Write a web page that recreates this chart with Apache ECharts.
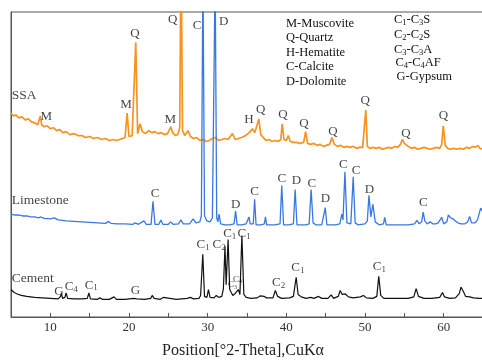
<!DOCTYPE html>
<html>
<head>
<meta charset="utf-8">
<script src="https://cdn.jsdelivr.net/npm/echarts@6/dist/echarts.min.js"></script>
<style>
  html, body { margin: 0; padding: 0; background: #fff; overflow: hidden; }
  /* the plot frame runs a few pixels past the right edge of the page */
  #chart { width: 486px; height: 364px; }
</style>
</head>
<body>
<div id="chart"></div>
<script>
// XRD patterns: [2θ (deg), intensity (a.u., relative to each trace's own zero)]
const ssaPattern = [
  [5.0,40],[5.3,37],[5.6,38],[6.0,35],[6.4,36],[6.8,33],[7.2,34],[7.6,31],[8.0,30],[8.4,28],[8.6,30],
  [8.73,37],[8.9,28],[9.2,26],[9.6,27],[10.0,24],[10.4,25],[10.8,22],[11.2,23],[11.6,20],[12.0,21],
  [12.5,18],[13.0,19],[13.5,17],[14.0,17],[14.5,15],[15.0,16],[15.5,14],[16.0,15],[16.5,13],[17.0,14],
  [17.5,12],[18.0,13],[18.4,12],[18.8,13],[19.2,14],[19.5,15],[19.76,40],[20.0,16],[20.4,17],[20.6,18],
  [20.86,112],[21.1,19],[21.4,29],[21.7,21],[22.1,19],[22.5,22],[22.9,20],[23.3,21],[23.7,19],[24.1,20],
  [24.5,18],[24.9,19],[25.1,21],[25.3,26],[25.55,20],[25.9,17],[26.2,18],[26.45,25],[26.62,215],[26.8,22],
  [27.1,17],[27.5,22],[27.8,16],[28.2,14],[28.6,15],[29.0,12],[29.4,13],[29.8,11],[30.2,12],[30.6,14],
  [31.0,15],[31.4,12],[31.8,13],[32.2,14],[32.6,13],[33.15,19],[33.5,13],[33.9,14],[34.3,15],[34.6,16],
  [35.0,18],[35.4,21],[35.7,24],[36.0,20],[36.25,19],[36.5,34],[36.75,18],[37.0,16],[37.4,12],[37.8,13],
  [38.2,11],[38.6,12],[39.0,11],[39.3,13],[39.47,29],[39.7,13],[40.0,12],[40.25,17],[40.5,11],[40.9,10],
  [41.3,10],[41.7,9],[42.2,10],[42.45,21],[42.7,9],[43.1,8],[43.5,9],[43.9,7],[44.3,8],[44.7,6],[45.1,7],
  [45.5,8],[45.8,15],[46.1,8],[46.5,6],[46.9,7],[47.3,5],[47.7,6],[48.1,5],[48.5,6],[48.9,4],[49.3,5],
  [49.7,5],[49.9,7],[50.1,43],[50.3,6],[50.6,4],[51.0,5],[51.4,4],[51.8,5],[52.2,3],[52.6,4],[53.0,5],
  [53.4,4],[53.8,6],[54.2,5],[54.5,8],[54.75,13],[55.0,9],[55.25,11],[55.5,6],[55.9,4],[56.3,5],[56.7,3],
  [57.1,4],[57.5,5],[57.9,4],[58.3,3],[58.7,4],[59.1,5],[59.5,4],[59.75,8],[59.95,27],[60.2,7],[60.5,4],
  [60.9,3],[61.3,4],[61.7,3],[62.1,4],[62.5,3],[62.9,5],[63.3,4],[63.7,6],[64.0,5],[64.35,7],[64.6,4],[65.0,3]
];

const limestonePattern = [
  [5.0,13],[5.5,12],[6.0,12],[6.2,14],[6.5,11],[7.0,11],[7.5,10],[8.0,10],[8.5,9],[8.8,10],[9.2,8.5],
  [10.0,8],[10.5,9],[11.0,7],[12.0,6],[13.0,5.5],[14.0,5],[15.0,4.5],[16.0,4],[17.0,3.5],[17.4,5.5],
  [17.7,3.5],[18.5,3],[19.5,3],[20.5,2.5],[20.8,4],[21.2,2.5],[21.9,6],[22.2,2.5],[22.8,2.5],[23.05,26],
  [23.3,2.5],[23.8,2.5],[24.05,7],[24.3,2.5],[25.0,2.5],[25.3,5],[25.6,2.5],[26.3,3],[26.6,7],[26.9,3],
  [27.7,3],[28.15,8],[28.5,4],[29.0,5],[29.2,11],[29.4,260],[29.6,11],[29.9,6],[30.3,5],[30.6,9],
  [30.95,260],[31.15,9],[31.3,5],[31.45,13],[31.65,3],[32.2,2],[32.8,2],[33.35,3],[33.55,16],[33.75,2],
  [34.3,2],[34.9,3],[35.1,5],[35.25,10],[35.4,3],[35.8,3],[35.97,28],[36.15,2],[36.8,2],[37.2,3],
  [37.35,10],[37.5,2],[38.5,2],[39.2,3],[39.42,42],[39.65,2],[40.3,2],[40.9,3],[41.12,38],[41.35,2],
  [42.5,2],[42.9,3],[43.15,38],[43.4,4],[43.55,6],[43.75,2],[44.5,2],[44.75,3],[44.95,19.5],[45.15,2],
  [46.2,2],[46.8,3],[47.05,13],[47.2,7],[47.45,56],[47.7,4],[48.2,3],[48.5,51],[48.75,4],[49.1,2],
  [50.0,3],[50.3,6],[50.5,32],[50.75,10],[51.0,23],[51.3,5],[51.8,2],[52.35,3],[52.5,9.5],[52.7,2],
  [54.0,2],[55.5,2],[56.3,3],[56.6,6.5],[56.9,3],[57.2,5],[57.4,15],[57.6,6],[57.9,3],[58.3,5],[58.6,3],
  [59.0,3],[59.3,4],[59.75,9.5],[60.0,3],[60.4,5],[60.6,12],[60.9,9],[61.2,8],[61.5,6],[61.8,4],[62.2,3],
  [62.7,3],[63.05,5],[63.3,10.5],[63.55,4],[64.0,4],[64.3,7],[64.7,19],[65.0,15]
];

const cementPattern = [
  [5.0,11],[5.4,8],[5.8,6.5],[6.3,5],[7.0,4],[8.0,3],[9.0,2.5],[10.0,2],[11.0,1.5],[11.3,4],[11.4,7],
  [11.55,2],[11.85,3],[12.0,7.5],[12.2,2],[13.0,1.5],[14.0,1.5],[14.7,2],[14.9,7.5],[15.1,1.5],[16.0,1],
  [16.3,2.5],[16.6,1],[17.5,1],[18.1,3.5],[18.4,1],[19.5,1],[20.6,2],[20.8,3.5],[21.0,1.5],[22.0,1],
  [22.75,2],[22.95,5],[23.2,2],[24.0,1],[24.35,3],[24.6,1],[25.2,2],[26.0,1],[27.4,2],[27.8,3],[28.2,1.5],
  [28.9,2],[29.1,5],[29.38,47],[29.6,4],[29.9,3],[30.1,11],[30.3,3],[30.8,2.5],[31.1,5],[31.4,3],[31.8,4],
  [32.0,12],[32.2,55],[32.35,16],[32.6,62],[32.8,11],[33.0,9],[33.2,5],[33.5,7],[33.75,9],[33.9,11],
  [34.1,6],[34.35,66],[34.6,6],[34.9,3],[35.5,2],[36.3,2.5],[36.65,4.5],[36.9,2.5],[37.2,4],[37.5,2.5],
  [38.3,2.5],[38.6,10],[38.9,4],[39.4,2],[40.4,2.5],[40.9,4],[41.25,23.5],[41.5,6],[41.9,3.5],[42.5,2],
  [43.1,3],[43.5,2],[44.1,4],[44.5,2],[45.3,2],[45.7,5.5],[46.0,2],[46.6,4],[46.85,10],[47.1,6],[47.5,6.5],
  [47.9,3.5],[48.5,2.5],[49.4,3.5],[49.8,5],[50.2,2.5],[51.0,2],[51.5,4],[51.75,24.5],[52.0,5],[52.4,2],
  [53.5,2],[54.5,2],[55.5,2],[56.2,3.5],[56.5,12],[56.8,4],[57.5,2],[58.5,2],[59.5,3],[59.85,8],[60.1,3.5],
  [60.8,2],[61.5,2.5],[62.0,7],[62.2,13.5],[62.5,9],[62.8,4],[63.3,3.5],[63.5,4.5],[63.8,2.5],[64.5,2],[65.0,2]
];

// Phase labels: [text, 2θ, intensity] in each trace's own units
const ssaMarks = [
  ['M',9.49,36],['M',19.63,47.7],['Q',20.77,120.7],['M',25.25,33.3],['Q',25.55,134.3],['H',35.26,33.3],
  ['Q',36.74,43.3],['Q',39.57,37.7],['Q',42.23,29],['Q',45.91,20.7],['Q',50.01,51.7],['Q',55.21,18.3],['Q',59.97,37.3]
];
const limestoneMarks = [
  ['C',28.67,205],['D',32.05,208.7],['C',23.31,33.7],['D',33.57,21.7],['C',35.98,35.3],['C',39.44,48.7],
  ['D',41.27,47],['C',43.24,43.7],['D',44.98,28.3],['C',47.26,62.7],['C',48.87,57],['D',50.56,37.7],['C',57.40,23.7]
];
const cementMarks = [
  ['G',11.10,8.3],['C4',12.66,13.3],['C1',15.20,15],['G',20.81,9.3],['C1',29.43,56],['C2',31.46,56.7],
  ['C1',32.81,67.7],['C1',34.63,67.7],['C2',39.02,17.7],['C1',41.47,33.3],['C1',51.83,34.3]
];
const cementMinorMarks = [['C3',33.15,15.3],['C4',33.79,21]];

// Trace names: [text, 2θ, intensity]
const traceNames = {
  ssa: ['SSA', 5.1, 58],
  limestone: ['Limestone', 5.1, 27],
  cement: ['Cement', 5.1, 22.7]
};

const legendLeft = ['M-Muscovite','Q-Quartz','H-Hematite','C-Calcite','D-Dolomite'];
const legendRight = ['C1-C3S','C2-C2S','C3-C3A','C4-C4AF','G-Gypsum'];

// vertical stacking of the three patterns
const traceOffset = { ssa: 168, limestone: 92, cement: 17 };

const SERIF = '"Liberation Serif","Times New Roman",serif';
const COLORS = { ssa: '#f7931e', limestone: '#3a78e0', cement: '#111111' };

// turn digits into subscript rich-text tokens
function toRich(s, m, sub) {
  return s.split(/(\d)/).filter(t => t !== '').map(t =>
    /\d/.test(t) ? '{' + sub + '|' + t + '}' : '{' + m + '|' + t + '}').join('');
}
const richLabel = {
  m: { fontFamily: SERIF, fontSize: 13, lineHeight: 14, verticalAlign: 'top', color: '#111' },
  s: { fontFamily: SERIF, fontSize: 9, lineHeight: 9, padding: [8, 0, 0, 0], verticalAlign: 'bottom', color: '#111' },
  mm: { fontFamily: SERIF, fontSize: 9, lineHeight: 10, verticalAlign: 'top', color: '#111' },
  ss: { fontFamily: SERIF, fontSize: 6, lineHeight: 6, padding: [6, 0, 0, 0], verticalAlign: 'bottom', color: '#111' }
};

function lineSeries(key, pattern, width) {
  const off = traceOffset[key];
  return {
    type: 'line', name: key, silent: true, symbol: 'none', clip: true,
    lineStyle: { color: COLORS[key], width: width },
    data: pattern.map(p => [p[0], p[1] + off])
  };
}
function labelSeries(key, marks, m, s) {
  const off = traceOffset[key];
  return {
    type: 'scatter', silent: true, symbolSize: 0, z: 5,
    itemStyle: { color: 'transparent' },
    label: {
      show: true, position: 'inside',
      formatter: p => toRich(p.name, m, s), rich: richLabel
    },
    data: marks.map(a => ({ name: a[0], value: [a[1], a[2] + off] }))
  };
}
function nameSeries(key) {
  const n = traceNames[key];
  const off = traceOffset[key];
  return {
    type: 'scatter', silent: true, symbolSize: 0, z: 5,
    itemStyle: { color: 'transparent' },
    label: { show: true, position: 'right', distance: 0, formatter: '{b}',
      fontFamily: SERIF, fontSize: 13.5, color: '#111' },
    data: [{ name: n[0], value: [n[1], n[2] + off] }]
  };
}

const legendGraphics = [];
legendLeft.forEach((t, i) => {
  legendGraphics.push({ type: 'text', x: 286, y: 23.3 + i * 14.6, silent: true,
    style: { text: t, fontFamily: SERIF, fontSize: 12.5, fill: '#111', verticalAlign: 'middle' } });
});
const rightX = [394, 394, 394, 395.5, 396.5];
const rightY = [20.5, 35, 50, 63.3, 77.7];
legendRight.forEach((t, i) => {
  legendGraphics.push({ type: 'text', x: rightX[i], y: rightY[i], silent: true,
    style: { text: toRich(t, 'm', 's'), rich: {
      m: { fontFamily: SERIF, fontSize: 12.5, lineHeight: 14, verticalAlign: 'top', fill: '#111' },
      s: { fontFamily: SERIF, fontSize: 8.5, lineHeight: 9, padding: [8, 0, 0, 0], verticalAlign: 'bottom', fill: '#111' }
    }, verticalAlign: 'middle' } });
});

const chart = echarts.init(document.getElementById('chart'), null, { renderer: 'canvas' });
chart.setOption({
  animation: false,
  backgroundColor: '#fff',
  grid: { left: 11, top: 12, right: 1.6, bottom: 41, show: true, borderColor: '#555', borderWidth: 1 },
  xAxis: {
    type: 'value', min: 5, max: 65, interval: 5,
    name: 'Position[°2-Theta],CuKα', nameLocation: 'middle', nameGap: 26,
    nameTextStyle: { fontFamily: SERIF, fontSize: 16, color: '#222', padding: [0, 8, 0, 0] },
    axisLine: { lineStyle: { color: '#555', width: 1 } },
    axisTick: { inside: true, length: 4, lineStyle: { color: '#555' } },
    axisLabel: { margin: 4, fontFamily: SERIF, fontSize: 13, color: '#333',
      formatter: v => (v % 10 === 0 ? String(v) : '') },
    splitLine: { show: false }
  },
  yAxis: {
    type: 'value', min: 0, max: 311,
    axisLine: { show: true, lineStyle: { color: '#555' } },
    axisTick: { show: false }, axisLabel: { show: false }, splitLine: { show: false }
  },
  graphic: legendGraphics,
  series: [
    lineSeries('ssa', ssaPattern, 1.7),
    lineSeries('limestone', limestonePattern, 1.3),
    lineSeries('cement', cementPattern, 1.2),
    labelSeries('ssa', ssaMarks, 'm', 's'),
    labelSeries('limestone', limestoneMarks, 'm', 's'),
    labelSeries('cement', cementMarks, 'm', 's'),
    labelSeries('cement', cementMinorMarks, 'mm', 'ss'),
    nameSeries('ssa'), nameSeries('limestone'), nameSeries('cement')
  ]
});
</script>
</body>
</html>
